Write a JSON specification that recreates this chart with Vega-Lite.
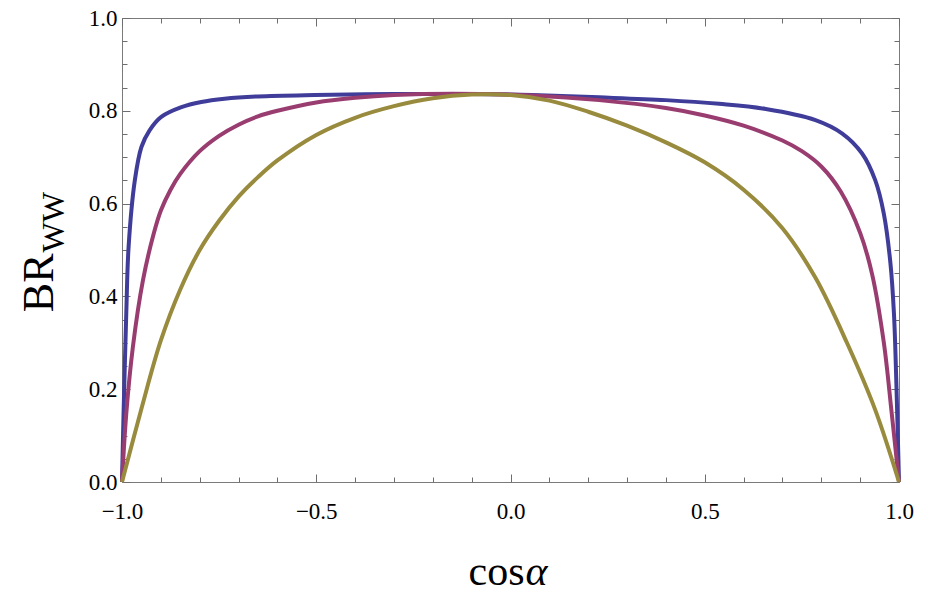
{
  "$schema": "https://vega.github.io/schema/vega-lite/v6.json",
  "width": 777,
  "height": 464,
  "autosize": {"type": "none"},
  "padding": {"left": 122, "top": 18, "right": 38, "bottom": 110},
  "background": "white",
  "config": {
    "view": {"stroke": "#7a7a7a", "strokeWidth": 1},
    "axis": {
      "labelFont": "Liberation Serif",
      "titleFont": "Liberation Serif",
      "labelColor": "black",
      "titleColor": "black",
      "titleFontWeight": "normal",
      "domain": false,
      "grid": false,
      "tickColor": "#6e6e6e",
      "tickWidth": 1
    }
  },
  "data": {
    "values": [
      {"x": -1, "y": 0, "s": "a"},
      {"x": -0.996, "y": 0.147, "s": "a"},
      {"x": -0.989, "y": 0.363, "s": "a"},
      {"x": -0.983, "y": 0.507, "s": "a"},
      {"x": -0.967, "y": 0.65, "s": "a"},
      {"x": -0.95, "y": 0.722, "s": "a"},
      {"x": -0.929, "y": 0.758, "s": "a"},
      {"x": -0.899, "y": 0.787, "s": "a"},
      {"x": -0.847, "y": 0.808, "s": "a"},
      {"x": -0.796, "y": 0.819, "s": "a"},
      {"x": -0.736, "y": 0.826, "s": "a"},
      {"x": -0.65, "y": 0.831, "s": "a"},
      {"x": -0.504, "y": 0.834, "s": "a"},
      {"x": -0.3, "y": 0.836, "s": "a"},
      {"x": -0.1, "y": 0.836, "s": "a"},
      {"x": 0.056, "y": 0.834, "s": "a"},
      {"x": 0.228, "y": 0.829, "s": "a"},
      {"x": 0.4, "y": 0.823, "s": "a"},
      {"x": 0.537, "y": 0.815, "s": "a"},
      {"x": 0.657, "y": 0.804, "s": "a"},
      {"x": 0.785, "y": 0.78, "s": "a"},
      {"x": 0.854, "y": 0.751, "s": "a"},
      {"x": 0.905, "y": 0.708, "s": "a"},
      {"x": 0.939, "y": 0.65, "s": "a"},
      {"x": 0.961, "y": 0.578, "s": "a"},
      {"x": 0.978, "y": 0.471, "s": "a"},
      {"x": 0.987, "y": 0.363, "s": "a"},
      {"x": 0.993, "y": 0.219, "s": "a"},
      {"x": 1, "y": 0, "s": "a"},
      {"x": -1, "y": 0, "s": "b"},
      {"x": -0.989, "y": 0.147, "s": "b"},
      {"x": -0.972, "y": 0.291, "s": "b"},
      {"x": -0.946, "y": 0.435, "s": "b"},
      {"x": -0.92, "y": 0.53, "s": "b"},
      {"x": -0.9, "y": 0.585, "s": "b"},
      {"x": -0.875, "y": 0.63, "s": "b"},
      {"x": -0.85, "y": 0.664, "s": "b"},
      {"x": -0.8, "y": 0.713, "s": "b"},
      {"x": -0.75, "y": 0.746, "s": "b"},
      {"x": -0.7, "y": 0.77, "s": "b"},
      {"x": -0.65, "y": 0.788, "s": "b"},
      {"x": -0.6, "y": 0.8, "s": "b"},
      {"x": -0.5, "y": 0.818, "s": "b"},
      {"x": -0.4, "y": 0.828, "s": "b"},
      {"x": -0.3, "y": 0.834, "s": "b"},
      {"x": -0.15, "y": 0.837, "s": "b"},
      {"x": 0.056, "y": 0.833, "s": "b"},
      {"x": 0.228, "y": 0.823, "s": "b"},
      {"x": 0.4, "y": 0.806, "s": "b"},
      {"x": 0.5, "y": 0.79, "s": "b"},
      {"x": 0.6, "y": 0.768, "s": "b"},
      {"x": 0.7, "y": 0.736, "s": "b"},
      {"x": 0.75, "y": 0.713, "s": "b"},
      {"x": 0.8, "y": 0.68, "s": "b"},
      {"x": 0.85, "y": 0.626, "s": "b"},
      {"x": 0.9, "y": 0.537, "s": "b"},
      {"x": 0.931, "y": 0.447, "s": "b"},
      {"x": 0.961, "y": 0.3, "s": "b"},
      {"x": 0.981, "y": 0.15, "s": "b"},
      {"x": 1, "y": 0, "s": "b"},
      {"x": -1, "y": 0, "s": "c"},
      {"x": -0.95, "y": 0.158, "s": "c"},
      {"x": -0.9, "y": 0.305, "s": "c"},
      {"x": -0.85, "y": 0.415, "s": "c"},
      {"x": -0.8, "y": 0.5, "s": "c"},
      {"x": -0.75, "y": 0.563, "s": "c"},
      {"x": -0.7, "y": 0.615, "s": "c"},
      {"x": -0.65, "y": 0.657, "s": "c"},
      {"x": -0.6, "y": 0.693, "s": "c"},
      {"x": -0.5, "y": 0.748, "s": "c"},
      {"x": -0.4, "y": 0.785, "s": "c"},
      {"x": -0.3, "y": 0.81, "s": "c"},
      {"x": -0.2, "y": 0.827, "s": "c"},
      {"x": -0.1, "y": 0.835, "s": "c"},
      {"x": 0, "y": 0.834, "s": "c"},
      {"x": 0.1, "y": 0.822, "s": "c"},
      {"x": 0.2, "y": 0.798, "s": "c"},
      {"x": 0.3, "y": 0.768, "s": "c"},
      {"x": 0.4, "y": 0.732, "s": "c"},
      {"x": 0.5, "y": 0.689, "s": "c"},
      {"x": 0.6, "y": 0.63, "s": "c"},
      {"x": 0.7, "y": 0.547, "s": "c"},
      {"x": 0.785, "y": 0.44, "s": "c"},
      {"x": 0.866, "y": 0.3, "s": "c"},
      {"x": 0.939, "y": 0.155, "s": "c"},
      {"x": 1, "y": 0, "s": "c"}
    ]
  },
  "resolve": {"axis": {"x": "independent", "y": "independent"}},
  "layer": [
    {
      "mark": {"type": "line", "strokeWidth": 4, "interpolate": "catmull-rom"},
      "encoding": {
        "x": {
          "field": "x", "type": "quantitative",
          "scale": {"domain": [-1, 1], "nice": false, "zero": false},
          "axis": {
            "orient": "bottom",
            "values": [-1, -0.5, 0, 0.5, 1],
            "format": ".1f",
            "tickSize": -8,
            "labelFontSize": 23,
            "labelPadding": 26,
            "labelFlush": false,
            "labelOverlap": false,
            "title": "cos",
            "titleFontSize": 42,
            "titleX": 346,
            "titleY": 102,
            "titleBaseline": "alphabetic",
            "titleAlign": "left"
          }
        },
        "y": {
          "field": "y", "type": "quantitative",
          "scale": {"domain": [0, 1], "nice": false},
          "axis": {
            "orient": "left",
            "values": [0, 0.2, 0.4, 0.6, 0.8, 1],
            "format": ".1f",
            "tickSize": -8,
            "labelFontSize": 23,
            "labelPadding": 13,
            "labelFlush": false,
            "labelOverlap": false,
            "labelBaseline": "middle",
            "title": "BR",
            "titleFontSize": 44,
            "titleAngle": -90,
            "titleX": -69.7,
            "titleY": 293.7,
            "titleAlign": "left",
            "titleBaseline": "alphabetic"
          }
        },
        "color": {
          "field": "s", "type": "nominal", "legend": null,
          "scale": {"domain": ["a", "b", "c"], "range": ["#3f3d99", "#993d71", "#998b3d"]}
        },
        "order": {"field": "x", "type": "quantitative"}
      }
    },
    {
      "mark": {"type": "point", "opacity": 0},
      "encoding": {
        "x": {
          "field": "x", "type": "quantitative",
          "axis": {
            "orient": "bottom",
            "values": [-0.9, -0.8, -0.7, -0.6, -0.4, -0.3, -0.2, -0.1, 0.1, 0.2, 0.3, 0.4, 0.6, 0.7, 0.8, 0.9],
            "tickSize": -5,
            "labels": false,
            "title": "α",
            "titleFontSize": 42,
            "titleFontStyle": "italic",
            "titleX": 403,
            "titleY": 102,
            "titleBaseline": "alphabetic",
            "titleAlign": "left"
          }
        },
        "y": {
          "field": "y", "type": "quantitative",
          "axis": {
            "orient": "left",
            "values": [0.05, 0.1, 0.15, 0.25, 0.3, 0.35, 0.45, 0.5, 0.55, 0.65, 0.7, 0.75, 0.85, 0.9, 0.95],
            "tickSize": -5,
            "labels": false,
            "title": "WW",
            "titleFontSize": 32,
            "titleAngle": -90,
            "titleX": -58.7,
            "titleY": 234,
            "titleAlign": "left",
            "titleBaseline": "alphabetic"
          }
        }
      }
    },
    {
      "mark": {"type": "point", "opacity": 0},
      "encoding": {
        "x": {
          "field": "x", "type": "quantitative",
          "axis": {
            "orient": "top",
            "values": [-1, -0.5, 0, 0.5, 1],
            "tickSize": -8,
            "labels": false,
            "title": null
          }
        },
        "y": {
          "field": "y", "type": "quantitative",
          "axis": {
            "orient": "right",
            "values": [0, 0.2, 0.4, 0.6, 0.8, 1],
            "tickSize": -8,
            "labels": false,
            "title": null
          }
        }
      }
    },
    {
      "mark": {"type": "point", "opacity": 0},
      "encoding": {
        "x": {
          "field": "x", "type": "quantitative",
          "axis": {
            "orient": "top",
            "values": [-0.9, -0.8, -0.7, -0.6, -0.4, -0.3, -0.2, -0.1, 0.1, 0.2, 0.3, 0.4, 0.6, 0.7, 0.8, 0.9],
            "tickSize": -5,
            "labels": false,
            "title": null
          }
        },
        "y": {
          "field": "y", "type": "quantitative",
          "axis": {
            "orient": "right",
            "values": [0.05, 0.1, 0.15, 0.25, 0.3, 0.35, 0.45, 0.5, 0.55, 0.65, 0.7, 0.75, 0.85, 0.9, 0.95],
            "tickSize": -5,
            "labels": false,
            "title": null
          }
        }
      }
    }
  ]
}
